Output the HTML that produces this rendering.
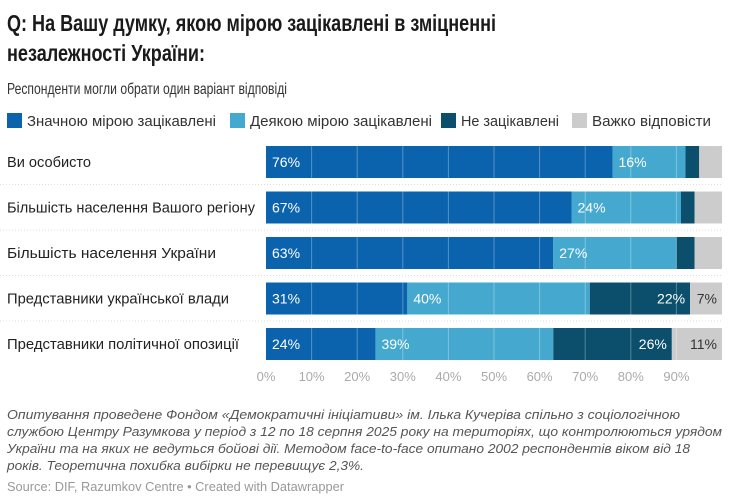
<!DOCTYPE html>
<html><head><meta charset="utf-8"><style>
body{margin:0;background:#fff;width:730px;height:500px;overflow:hidden}
svg{display:block;font-family:"Liberation Sans","Noto Sans CJK SC",sans-serif}
</style></head><body>
<svg id="c" width="730" height="500" viewBox="0 0 730 500">
<g font-size="23" font-weight="bold" fill="#1a1a1a">
<text x="7" y="31" textLength="489" lengthAdjust="spacingAndGlyphs">Q: На Вашу думку, якою мірою зацікавлені в зміцненні</text>
<text x="7" y="61" textLength="198" lengthAdjust="spacingAndGlyphs">незалежності України:</text>
</g>
<text x="7" y="94" font-size="16" fill="#333" textLength="280" lengthAdjust="spacingAndGlyphs">Респонденти могли обрати один варіант відповіді</text>
<g id="legend" font-size="15" fill="#333"></g>
<g id="grid"></g>
<g id="bars"></g>
<g id="axis" font-size="13" fill="#aaa"></g>
<g font-size="13" font-style="italic" fill="#555">
<text x="7" y="419" textLength="673" lengthAdjust="spacingAndGlyphs">Опитування проведене Фондом «Демократичні ініціативи» ім. Ілька Кучеріва спільно з соціологічною</text>
<text x="7" y="436" textLength="715" lengthAdjust="spacingAndGlyphs">службою Центру Разумкова у період з 12 по 18 серпня 2025 року на територіях, що контролюються урядом</text>
<text x="7" y="453" textLength="683" lengthAdjust="spacingAndGlyphs">України та на яких не ведуться бойові дії. Методом face-to-face опитано 2002 респондентів віком від 18</text>
<text x="7" y="470" textLength="357" lengthAdjust="spacingAndGlyphs">років. Теоретична похибка вибірки не перевищує 2,3%.</text>
</g>
<text x="7" y="491" font-size="13" fill="#999" textLength="337" lengthAdjust="spacingAndGlyphs">Source: DIF, Razumkov Centre • Created with Datawrapper</text>
</svg>
<script>
const categories=["Ви особисто","Більшість населення Вашого регіону","Більшість населення України","Представники української влади","Представники політичної опозиції"];
const seriesNames=["Значною мірою зацікавлені","Деякою мірою зацікавлені","Не зацікавлені","Важко відповісти"];
const s1=[76,67,63,31,24];
const s2=[16,24,27,40,39];
const s3=[3,3,4,22,26];
const s4=[5,6,6,7,11];
const ticks=[0,10,20,30,40,50,60,70,80,90];
const colors=["#0b63ad","#45a9cf","#0b4f6c","#cccccc"];
const NS="http://www.w3.org/2000/svg";
const X0=266,PX=4.56;
const x=v=>X0+v*PX;
const rowY=i=>146+i*45.5, BH=32;
function mk(t,a,p){const e=document.createElementNS(NS,t);for(const k in a)e.setAttribute(k,a[k]);p.appendChild(e);return e;}
const lg=document.getElementById('legend');
const lx=[7,230,441,572], lw=[189,182,98,119];
seriesNames.forEach((n,i)=>{
 const r=mk('rect',{x:lx[i],y:113,width:15,height:15,fill:colors[i]},lg);
 
 
 const t=mk('text',{x:lx[i]+20,y:126,textLength:lw[i],lengthAdjust:'spacingAndGlyphs'},lg);t.textContent=n;
 
 
});
const bars=document.getElementById('bars'),grid=document.getElementById('grid'),ax=document.getElementById('axis');
const series=[s1,s2,s3,s4];
const lblW=[84,248,209,222,232];
categories.forEach((c,i)=>{
 const y=rowY(i);
 if(i>0){const l=mk('line',{x1:0,x2:722,y1:y-7,y2:y-7,stroke:'#ddd','stroke-dasharray':'1,2'},grid);
 
 }
 const t=mk('text',{x:7,y:y+21,'font-size':'15',fill:'#222',textLength:lblW[i],lengthAdjust:'spacingAndGlyphs'},bars);t.textContent=c;
 
 
 let acc=0;
 series.forEach((s,k)=>{
  const v=s[i];
  const r=mk('rect',{x:x(acc),y:y,width:v*PX,height:BH,fill:colors[k]},bars);
  
  
  if(v>=7){
   const tc=k===3?'#333':'#fff';
   let tx,anchor;
   if(k===2||k===3){tx=x(acc+v)-5;anchor='end';}else{tx=x(acc)+6;anchor='start';}
   const vt=mk('text',{x:tx,y:y+21,'font-size':'14',fill:tc,'text-anchor':anchor},bars);vt.textContent=v+'%';
   
   
  }
  acc+=v;
 });
});
ticks.forEach(t=>{
 if(t>0){const g=mk('line',{x1:x(t),x2:x(t),y1:140,y2:363,stroke:'#fff','stroke-opacity':0.3,'stroke-width':1},bars);
 
 }
 const tt=mk('text',{x:x(t),y:381,'text-anchor':'middle'},ax);tt.textContent=t+'%';
 
 
});
</script>
</body></html>
